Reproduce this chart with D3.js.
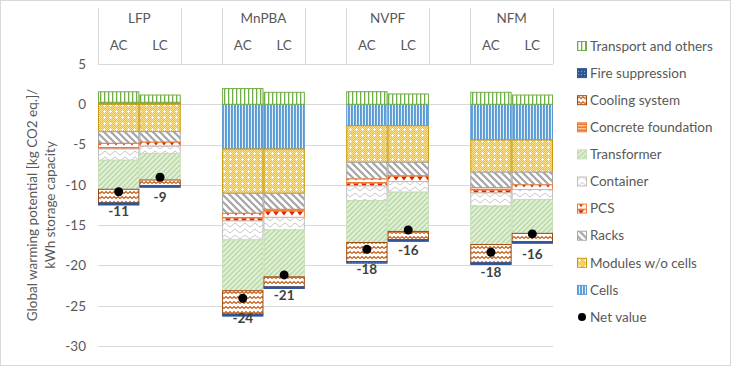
<!DOCTYPE html>
<html>
<head>
<meta charset="utf-8">
<script src="https://cdn.jsdelivr.net/npm/d3@7"></script>
<style>
  body { margin: 0; background: #fff; }
  text { font-family: Lato, "Noto Sans", sans-serif; }
</style>
</head>
<body>
<script>
// Chart size
var w = 731;
var h = 366;

// Categories: battery chemistries and the two sub cases
var groups = ["LFP", "MnPBA", "NVPF", "NFM"];
var cases = ["AC", "LC"];
var yTicks = [5, 0, -5, -10, -15, -20, -25, -30];

// Series values, one per bar (LFP AC, LFP LC, MnPBA AC, MnPBA LC, NVPF AC, NVPF LC, NFM AC, NFM LC)
var cells       = [0.1, 0.1, -5.55, -5.55, -2.65, -2.65, -4.43, -4.43];
var modules     = [-3.4, -3.4, -5.5, -5.5, -4.55, -4.55, -4.0, -4.0];
var racks       = [-1.45, -1.3, -2.48, -1.99, -2.07, -1.69, -1.94, -1.57];
var pcs         = [-0.7, -0.5, -0.95, -1.0, -0.87, -0.7, -0.62, -0.58];
var container   = [-1.4, -0.9, -2.36, -1.58, -1.82, -1.32, -1.66, -1.24];
var transformer = [-3.6, -3.3, -6.3, -5.8, -5.2, -4.87, -4.76, -4.2];
var concrete    = [0.15, 0.15, 0, 0, 0, 0, 0, 0];
var cooling     = [-1.7, -0.7, -2.9, -1.24, -2.36, -1.03, -2.27, -1.03];
var fire        = [-0.25, -0.2, -0.25, -0.2, -0.2, -0.2, -0.2, -0.2];
var transport   = [1.3, 0.9, 1.95, 1.49, 1.56, 1.28, 1.49, 1.15];
var netValue    = [-10.85, -9.06, -24.07, -21.18, -18.0, -15.6, -18.36, -16.09];

// Series in stacking order (from zero outwards)
var series = [
  { key: "cells", name: "Cells", values: cells, stroke: "#5b9bd5" },
  { key: "modules", name: "Modules w/o cells", values: modules, stroke: "#c99a06" },
  { key: "racks", name: "Racks", values: racks, stroke: "#a5a5a5" },
  { key: "pcs", name: "PCS", values: pcs, stroke: "#ed7d31" },
  { key: "container", name: "Container", values: container, stroke: "#bfbfbf" },
  { key: "transformer", name: "Transformer", values: transformer, stroke: "#c5e0b4" },
  { key: "concrete", name: "Concrete foundation", values: concrete, stroke: "#ed7d31" },
  { key: "cooling", name: "Cooling system", values: cooling, stroke: "#9e480e" },
  { key: "fire", name: "Fire suppression", values: fire, stroke: "#2f5597" },
  { key: "transport", name: "Transport and others", values: transport, stroke: "#70ad47" }
];

// Slots along x: two bars per group, an empty slot between groups
var slots = [];
var bars = [];
groups.forEach(function(g, gi) {
  cases.forEach(function(c) {
    slots.push(g + "|" + c);
    bars.push(g + "|" + c);
  });
  if (gi < groups.length - 1) slots.push("gap" + gi);
});

// Table for d3.stack
var table = bars.map(function(b, i) {
  var row = { bar: b };
  series.forEach(function(s) { row[s.key] = s.values[i]; });
  return row;
});

var svg = d3.select("body").append("svg")
  .attr("width", w)
  .attr("height", h);

// ---- patterns ----
var defs = svg.append("defs");
function pattern(id, pw, ph, bg) {
  var p = defs.append("pattern")
    .attr("id", id)
    .attr("patternUnits", "userSpaceOnUse")
    .attr("width", pw)
    .attr("height", ph);
  p.append("rect").attr("width", pw).attr("height", ph).attr("fill", bg);
  return p;
}

var p;
p = pattern("p-transport", 4, 4, "#fff");
p.append("rect").attr("x", 0).attr("width", 1.3).attr("height", 4).attr("fill", "#70ad47");

p = pattern("p-cells", 3, 3, "#e3eef9");
p.append("rect").attr("x", 0).attr("width", 1.9).attr("height", 3).attr("fill", "#5b9bd5");

p = pattern("p-modules", 6, 6, "#ffc000");
[[0, 0], [2, 0], [4, 0], [1, 1], [3, 1], [5, 1], [0, 2], [4, 2], [1, 3], [5, 3], [0, 4], [2, 4], [4, 4], [1, 5], [3, 5], [5, 5]]
  .forEach(function(c) {
    p.append("rect").attr("x", c[0]).attr("y", c[1]).attr("width", 1).attr("height", 1).attr("fill", "#ffe18a");
  });
p.append("rect").attr("x", 2).attr("y", 2).attr("width", 1).attr("height", 3).attr("fill", "#fff");
p.append("rect").attr("x", 1).attr("y", 3).attr("width", 3).attr("height", 1).attr("fill", "#fff");

p = pattern("p-racks", 7, 7, "#fff");
p.append("path").attr("d", "M-2,-2 L9,9 M-2,5 L2,9 M5,-2 L9,2")
  .attr("stroke", "#a5a5a5").attr("stroke-width", 2.2);

p = pattern("p-pcs", 8, 7, "#fff");
p.append("rect").attr("width", 8).attr("height", 1.5).attr("fill", "#ed7d31");
p.append("path").attr("d", "M1,1.5 L7,1.5 L4,5.5 Z").attr("fill", "#e02000");

p = pattern("p-container", 10, 6, "#fff");
p.append("path").attr("d", "M0,5 L5,1 L10,5")
  .attr("fill", "none").attr("stroke", "#c8c8c8").attr("stroke-width", 1);

p = pattern("p-transformer", 5, 5, "#e2f0d9");
p.append("path").attr("d", "M-1,6 L6,-1 M-1,1 L1,-1 M4,6 L6,4")
  .attr("stroke", "#b6d7a0").attr("stroke-width", 1.4);

p = pattern("p-concrete", 4, 3, "#ed7d31");
p.append("rect").attr("y", 1).attr("width", 4).attr("height", 1).attr("fill", "#fbe5d6");

p = pattern("p-cooling", 8, 5, "#fff");
p.append("path").attr("d", "M0,3.5 L2,1.5 L4,3.5 L6,1.5 L8,3.5")
  .attr("fill", "none").attr("stroke", "#c55a11").attr("stroke-width", 1.1);

p = pattern("p-fire", 3, 3, "#2f5597");
p.append("rect").attr("x", 1).attr("y", 1).attr("width", 1).attr("height", 1).attr("fill", "#8faadc");

// ---- scales ----
var x = d3.scaleBand()
  .domain(slots)
  .range([98, 553])
  .padding(0);

var y = d3.scaleLinear()
  .domain([-30, 5])
  .range([346, 64]);

// outer chart border
svg.append("rect")
  .attr("x", 0.5).attr("y", 0.5)
  .attr("width", w - 1).attr("height", h - 1)
  .attr("fill", "none").attr("stroke", "#d9d9d9");

// gridlines
svg.append("g")
  .selectAll("line")
  .data(yTicks)
  .enter().append("line")
  .attr("x1", 98).attr("x2", 553)
  .attr("y1", function(d) { return Math.round(y(d)) + 0.5; })
  .attr("y2", function(d) { return Math.round(y(d)) + 0.5; })
  .attr("stroke", "#d9d9d9")
  .attr("stroke-width", 1);

// y axis tick labels
var yAxis = svg.append("g")
  .attr("transform", "translate(98,0)")
  .call(d3.axisLeft(y).tickValues(yTicks).tickSize(0).tickPadding(12)
    .tickFormat(function(d) { return String(d); }));
yAxis.select(".domain").remove();
yAxis.selectAll("text")
  .attr("font-size", 13.5)
  .attr("fill", "#595959")
  .style("font-family", "Lato, 'Noto Sans', sans-serif");

// y axis title
var title = svg.append("text")
  .attr("transform", "translate(32,205) rotate(-90)")
  .attr("text-anchor", "middle")
  .attr("font-size", 13.5)
  .attr("fill", "#595959");
title.append("tspan").attr("x", 0).attr("dy", "0.35em").text("Global warming potential [kg CO2 eq.]/");
title.append("tspan").attr("x", 0).attr("dy", "1.35em").text("kWh storage capacity");

// category header on top
var header = svg.append("g");
groups.forEach(function(g) {
  var x0 = x(g + "|AC");
  var x1 = x(g + "|LC") + x.bandwidth();
  [x0, x1].forEach(function(xx) {
    header.append("line")
      .attr("x1", Math.round(xx) + 0.5).attr("x2", Math.round(xx) + 0.5)
      .attr("y1", 8).attr("y2", 64)
      .attr("stroke", "#d9d9d9");
  });
  header.append("text")
    .attr("x", (x0 + x1) / 2).attr("y", 18)
    .attr("dy", "0.35em")
    .attr("text-anchor", "middle")
    .attr("font-size", 13.5)
    .attr("fill", "#595959")
    .text(g);
  cases.forEach(function(c) {
    header.append("text")
      .attr("x", x(g + "|" + c) + x.bandwidth() / 2).attr("y", 45)
      .attr("dy", "0.35em")
      .attr("text-anchor", "middle")
      .attr("font-size", 13.5)
      .attr("fill", "#595959")
      .text(c);
  });
});

// ---- stacked bars ----
var stack = d3.stack()
  .keys(series.map(function(s) { return s.key; }))
  .offset(d3.stackOffsetDiverging);
var stacked = stack(table);

var layers = svg.append("g")
  .selectAll("g")
  .data(stacked)
  .enter().append("g")
  .attr("fill", function(d) { return "url(#p-" + d.key + ")"; })
  .attr("stroke", function(d, i) { return series[i].stroke; })
  .attr("stroke-width", 1);

layers.selectAll("rect")
  .data(function(d) { return d.filter(function(v) { return v[1] - v[0] !== 0; }); })
  .enter().append("rect")
  .attr("x", function(d) { return x(d.data.bar) + 0.5; })
  .attr("y", function(d) { return y(d[1]); })
  .attr("width", x.bandwidth() - 1)
  .attr("height", function(d) { return Math.max(0, y(d[0]) - y(d[1])); });

// ---- net value dots and labels ----
svg.append("g")
  .selectAll("circle")
  .data(netValue)
  .enter().append("circle")
  .attr("cx", function(d, i) { return x(bars[i]) + x.bandwidth() / 2; })
  .attr("cy", function(d) { return y(d); })
  .attr("r", 4.5)
  .attr("fill", "#000");

svg.append("g")
  .selectAll("text")
  .data(netValue)
  .enter().append("text")
  .attr("x", function(d, i) { return x(bars[i]) + x.bandwidth() / 2; })
  .attr("y", function(d) { return y(d) + 20; })
  .attr("dy", "0.35em")
  .attr("text-anchor", "middle")
  .attr("font-size", 13.5)
  .attr("font-weight", "bold")
  .attr("fill", "#404040")
  .text(function(d) { return String(Math.round(d)); });

// ---- legend ----
var legendItems = series.slice().reverse().concat([{ key: "net", name: "Net value" }]);
var legend = svg.append("g")
  .selectAll("g")
  .data(legendItems)
  .enter().append("g")
  .attr("transform", function(d, i) { return "translate(577," + (46 + i * 27.1) + ")"; });

legend.filter(function(d) { return d.key !== "net"; })
  .append("rect")
  .attr("x", 0.5).attr("y", -4.5)
  .attr("width", 9).attr("height", 9)
  .attr("fill", function(d) { return "url(#p-" + d.key + ")"; })
  .attr("stroke", function(d) { return d.stroke; });

legend.filter(function(d) { return d.key === "net"; })
  .append("circle")
  .attr("cx", 5).attr("cy", 0).attr("r", 4)
  .attr("fill", "#000");

legend.append("text")
  .attr("x", 13).attr("y", 0)
  .attr("dy", "0.35em")
  .attr("font-size", 13.5)
  .attr("fill", "#595959")
  .text(function(d) { return d.name; });
</script>
</body>
</html>
